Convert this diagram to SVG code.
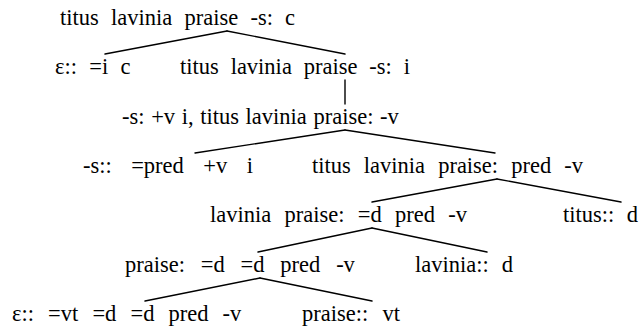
<svg xmlns="http://www.w3.org/2000/svg" width="639" height="329" viewBox="0 0 639 329">
<style>
.lbl{font-family:"Liberation Serif","Times New Roman",serif;font-size:22.5px;fill:#000}
.e{stroke:#000;stroke-width:1.4;fill:none;stroke-linecap:round}
</style>
<rect width="639" height="329" fill="#fff"/>
<g id="connectors">
<line class="e" x1="227" y1="31" x2="105" y2="54"/>
<line class="e" x1="227" y1="31" x2="345" y2="54"/>
<line class="e" x1="345" y1="80" x2="345" y2="104"/>
<line class="e" x1="345" y1="130" x2="195" y2="153"/>
<line class="e" x1="345" y1="130" x2="495" y2="153"/>
<line class="e" x1="497" y1="179" x2="372" y2="202"/>
<line class="e" x1="497" y1="179" x2="621" y2="202"/>
<line class="e" x1="372" y1="228" x2="258" y2="252"/>
<line class="e" x1="372" y1="228" x2="487" y2="252"/>
<line class="e" x1="260" y1="278" x2="145" y2="301"/>
<line class="e" x1="260" y1="278" x2="372" y2="301"/>
</g>
<g id="n1"><text class="lbl" x="60" y="25" word-spacing="6.6">titus lavinia praise -s: c</text></g>
<g id="n2"><text class="lbl" x="55" y="74" word-spacing="6.7">ε:: =i c</text></g>
<g id="n3"><text class="lbl" x="180" y="74" word-spacing="6.25">titus lavinia praise -s: i</text></g>
<g id="n4"><text class="lbl" x="122" y="123.5" word-spacing="1">-s: +v i, titus lavinia praise: -v</text></g>
<g id="n5"><text class="lbl" x="83" y="173" word-spacing="13.8">-s:: =pred +v i</text></g>
<g id="n6"><text class="lbl" x="312" y="173" word-spacing="7.45">titus lavinia praise: pred -v</text></g>
<g id="n7"><text class="lbl" x="210" y="222" word-spacing="7.65">lavinia praise: =d pred -v</text></g>
<g id="n8"><text class="lbl" x="563" y="222" word-spacing="6.8">titus:: d</text></g>
<g id="n9"><text class="lbl" x="125" y="271.5" word-spacing="10.2">praise: =d =d pred -v</text></g>
<g id="n10"><text class="lbl" x="415" y="271.5" word-spacing="7.4">lavinia:: d</text></g>
<g id="n11"><text class="lbl" x="12" y="321" word-spacing="8.5">ε:: =vt =d =d pred -v</text></g>
<g id="n12"><text class="lbl" x="302" y="321" word-spacing="8.6">praise:: vt</text></g>
</svg>
